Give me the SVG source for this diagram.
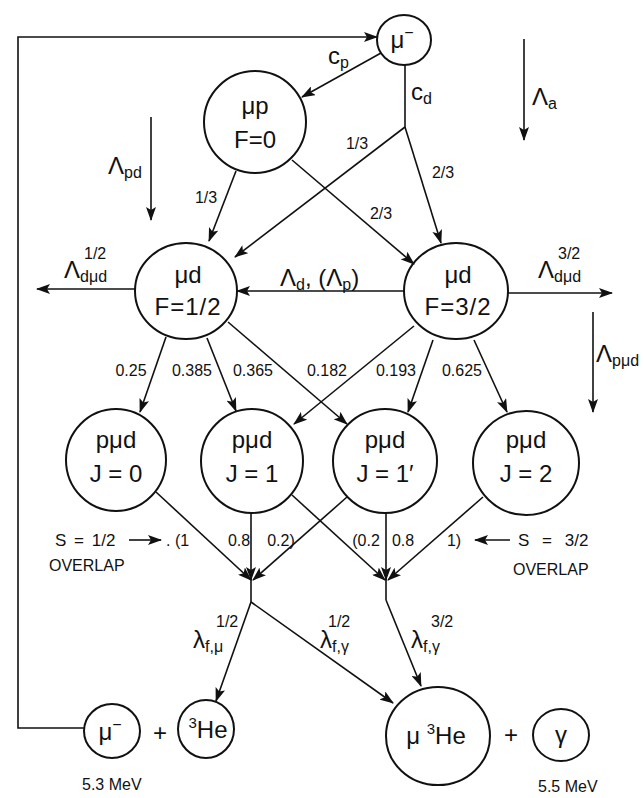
<svg xmlns="http://www.w3.org/2000/svg" width="644" height="798" viewBox="0 0 644 798">
<defs>
<marker id="ah" viewBox="0 0 14 10" refX="13" refY="5" markerWidth="14" markerHeight="10" markerUnits="userSpaceOnUse" orient="auto">
<path d="M0,0 L14,5 L0,10 L3,5 z" fill="#111"/>
</marker>
<style>
.n{fill:none;stroke:#111;stroke-width:2}
.c{stroke:#111;stroke-width:1.6;fill:none}
.a{marker-end:url(#ah)}
text{font-family:"Liberation Sans",Arial,sans-serif;fill:#111}
.t{font-size:24px;text-anchor:middle}
.l{font-size:16px;text-anchor:middle}
.g{font-size:24px}
.s{font-size:16px}
</style>
</defs>
<rect width="644" height="798" fill="#fff"/>

<g id="connectors">
<polyline class="c a" points="84,728 18,728 18,37 377,37"/>
<line class="c a" x1="381" y1="53" x2="302" y2="97"/>
<polyline class="c" points="405,65 405,127"/>
<line class="c a" x1="405" y1="127" x2="235" y2="257"/>
<line class="c a" x1="405" y1="127" x2="441" y2="243"/>
<line class="c a" x1="236" y1="171" x2="209" y2="241"/>
<line class="c a" x1="292" y1="160" x2="414" y2="264"/>
<line class="c a" x1="524" y1="39" x2="524" y2="140"/>
<line class="c a" x1="151" y1="117" x2="151" y2="220"/>
<line class="c a" x1="405" y1="291" x2="237" y2="291"/>
<line class="c a" x1="135" y1="289" x2="37" y2="289"/>
<line class="c a" x1="508" y1="293" x2="612" y2="293"/>
<line class="c a" x1="593" y1="312" x2="593" y2="412"/>
<line class="c a" x1="166" y1="337" x2="140" y2="412"/>
<line class="c a" x1="207" y1="338" x2="236" y2="411"/>
<line class="c a" x1="228" y1="322" x2="347" y2="424"/>
<line class="c a" x1="414" y1="326" x2="294" y2="424"/>
<line class="c a" x1="433" y1="340" x2="408" y2="412"/>
<line class="c a" x1="474" y1="340" x2="507" y2="412"/>
<line class="c a" x1="156" y1="492" x2="251" y2="580"/>
<line class="c a" x1="251" y1="513" x2="251" y2="580"/>
<line class="c a" x1="347" y1="497" x2="253" y2="580"/>
<line class="c a" x1="292" y1="495" x2="385" y2="580"/>
<line class="c a" x1="386" y1="513" x2="386" y2="580"/>
<line class="c a" x1="483" y1="497" x2="388" y2="580"/>
<line class="c" x1="251" y1="578" x2="251" y2="602"/>
<line class="c" x1="386" y1="578" x2="386" y2="600"/>
<line class="c a" x1="251" y1="602" x2="216" y2="701"/>
<line class="c a" x1="251" y1="602" x2="393" y2="703"/>
<line class="c a" x1="386" y1="600" x2="421" y2="686"/>
<line class="c a" x1="129" y1="540" x2="161" y2="540"/>
<line class="c a" x1="510" y1="540" x2="475" y2="540"/>
</g>

<g id="mu-top"><ellipse class="n" cx="404" cy="40" rx="27" ry="25"/><text class="t" x="402" y="48">μ<tspan font-size="16" dy="-10">−</tspan></text></g>
<g id="mup"><ellipse class="n" cx="255" cy="122" rx="51" ry="51"/><text class="t" x="255" y="114">μp</text><text class="t" x="255" y="148">F=0</text></g>
<g id="mud12"><ellipse class="n" cx="186" cy="291" rx="51" ry="48"/><text class="t" x="188" y="283">μd</text><text class="t" x="188" y="315" letter-spacing="1">F=1/2</text></g>
<g id="mud32"><ellipse class="n" cx="456" cy="291" rx="52" ry="48"/><text class="t" x="458" y="283">μd</text><text class="t" x="458" y="315" letter-spacing="1">F=3/2</text></g>
<g id="pmud0"><ellipse class="n" cx="116" cy="460" rx="50" ry="51"/><text class="t" x="116" y="448">pμd</text><text class="t" x="116" y="482">J = 0</text></g>
<g id="pmud1"><ellipse class="n" cx="252" cy="461" rx="51" ry="52"/><text class="t" x="252" y="448">pμd</text><text class="t" x="252" y="482">J = 1</text></g>
<g id="pmud1p"><ellipse class="n" cx="385" cy="461" rx="52" ry="52"/><text class="t" x="385" y="448">pμd</text><text class="t" x="385" y="482">J = 1′</text></g>
<g id="pmud2"><ellipse class="n" cx="526" cy="463" rx="53" ry="52"/><text class="t" x="526" y="448">pμd</text><text class="t" x="526" y="482">J = 2</text></g>
<g id="mu-bottom"><ellipse class="n" cx="112" cy="731" rx="28" ry="27"/><text class="t" x="110" y="740">μ<tspan font-size="16" dy="-10">−</tspan></text></g>
<g id="he3"><ellipse class="n" cx="206" cy="729" rx="28" ry="29"/><text class="t" x="208" y="738"><tspan font-size="15" dy="-10">3</tspan><tspan dy="10">He</tspan></text></g>
<g id="mu-he3"><ellipse class="n" cx="438" cy="736" rx="52" ry="49"/><text class="t" x="436" y="744">μ <tspan font-size="15" dy="-10">3</tspan><tspan dy="10">He</tspan></text></g>
<g id="gamma"><ellipse class="n" cx="561" cy="735" rx="28" ry="26"/><text class="t" x="561" y="743">γ</text></g>

<g id="labels">
<text class="g" x="328" y="64">c<tspan class="s" dy="4">p</tspan></text>
<text class="g" x="411" y="100">c<tspan class="s" dy="4">d</tspan></text>
<text class="l" x="357" y="149">1/3</text>
<text class="l" x="443" y="178">2/3</text>
<text class="l" x="206" y="203">1/3</text>
<text class="l" x="381" y="219">2/3</text>
<text class="g" x="532" y="105">Λ<tspan class="s" dy="4">a</tspan></text>
<text class="g" x="108" y="174">Λ<tspan class="s" dy="4">pd</tspan></text>
<text class="g" x="280" y="286">Λ<tspan class="s" dy="4">d</tspan><tspan dy="-4">, (Λ</tspan><tspan class="s" dy="4">p</tspan><tspan dy="-4">)</tspan></text>
<text class="s" x="84" y="259">1/2</text>
<text class="g" x="64" y="278">Λ<tspan class="s" dy="4">dμd</tspan></text>
<text class="s" x="558" y="259">3/2</text>
<text class="g" x="538" y="278">Λ<tspan class="s" dy="4">dμd</tspan></text>
<text class="g" x="596" y="362">Λ<tspan class="s" dy="4">pμd</tspan></text>
<text class="l" x="131" y="376">0.25</text>
<text class="l" x="192" y="376">0.385</text>
<text class="l" x="253" y="376">0.365</text>
<text class="l" x="327" y="376">0.182</text>
<text class="l" x="396" y="376">0.193</text>
<text class="l" x="462" y="376">0.625</text>
<text x="55" y="546" font-size="17" word-spacing="3">S = 1/2</text>
<text class="s" x="166" y="546">. (1</text>
<text class="l" x="239" y="546">0.8</text>
<text class="l" x="281" y="546">0.2)</text>
<text class="l" x="366" y="546">(0.2</text>
<text class="l" x="403" y="546">0.8</text>
<text class="l" x="454" y="546">1)</text>
<text x="518" y="546" font-size="17" word-spacing="8">S = 3/2</text>
<text class="s" x="49" y="571">OVERLAP</text>
<text class="s" x="513" y="575">OVERLAP</text>
<text class="s" x="216" y="627">1/2</text>
<text class="g" x="193" y="648">λ<tspan class="s" dy="4">f,μ</tspan></text>
<text class="s" x="328" y="627">1/2</text>
<text class="g" x="320" y="648">λ<tspan class="s" dy="4">f,γ</tspan></text>
<text class="s" x="431" y="627">3/2</text>
<text class="g" x="411" y="648">λ<tspan class="s" dy="4">f,γ</tspan></text>
<text class="t" x="160" y="741">+</text>
<text class="t" x="511" y="743">+</text>
<text class="s" x="82" y="790">5.3 MeV</text>
<text class="s" x="538" y="792">5.5 MeV</text>
</g>
</svg>
